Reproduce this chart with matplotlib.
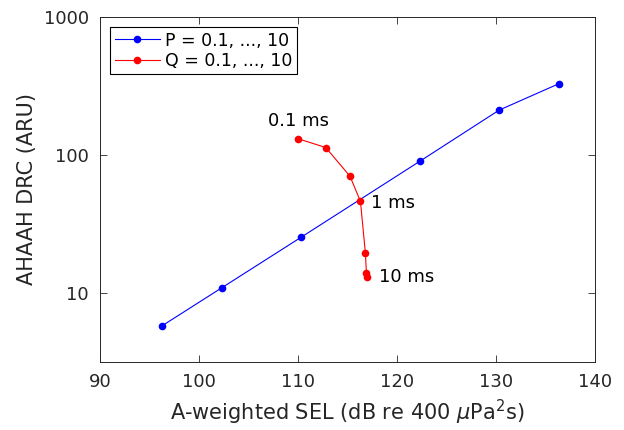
import matplotlib
matplotlib.use("Agg")
import matplotlib.pyplot as plt
from matplotlib.ticker import FixedLocator, NullLocator, FixedFormatter

plt.rcParams['font.family'] = ['DejaVu Sans']
plt.rcParams['mathtext.fontset'] = 'dejavusans'

# values
p_sel = [96.3, 102.3, 110.3, 122.3, 130.3, 136.3]
p_drc = [5.8, 10.9, 25.3, 90, 211, 327]
q_sel = [110.0, 112.8, 115.25, 116.3, 116.8, 116.9, 117.0]
q_drc = [131, 113, 70, 46, 19.4, 14.0, 13.0]

labels = ["0.1 ms", "1 ms", "10 ms"]
label_x = [110.0, 117.4, 118.2]
label_y = [175, 45, 13]
label_ha = ["center", "left", "left"]

x_ticks = [90, 100, 110, 120, 130, 140]
y_ticks = [10, 100, 1000]

fig = plt.figure(figsize=(6.24, 4.30), dpi=100)
ax = fig.add_axes([0.160, 0.158, 0.794, 0.803])

ax.plot(p_sel, p_drc, '-o', color='#0000ff', lw=0.8, ms=5.5,
        markeredgewidth=0, label="P = 0.1, ..., 10")
ax.plot(q_sel, q_drc, '-o', color='#ff0000', lw=0.8, ms=5.5,
        markeredgewidth=0, label="Q = 0.1, ..., 10")

for t, x, y, ha in zip(labels, label_x, label_y, label_ha):
    ax.text(x, y, t, fontsize=13, ha=ha, va='center')

ax.set_yscale('log')
ax.set_xlim(90, 140)
ax.set_ylim(10 ** 0.5, 1000)
ax.xaxis.set_major_locator(FixedLocator(x_ticks))
ax.yaxis.set_major_locator(FixedLocator(y_ticks))
ax.yaxis.set_major_formatter(FixedFormatter([str(v) for v in y_ticks]))
ax.yaxis.set_minor_locator(NullLocator())

ax.tick_params(direction='in', top=True, right=True, labelsize=13,
               colors='#262626', length=5, width=0.6, pad=8)
for s in ax.spines.values():
    s.set_color('#262626')
    s.set_linewidth(0.7)

ax.set_xlabel("A-weighted SEL (dB re 400 $\\mu$Pa$^2$s)", fontsize=15,
              color='#262626', labelpad=5)
ax.set_ylabel("AHAAH DRC (ARU)", fontsize=15, color='#262626', labelpad=5)

leg = ax.legend(loc='upper left', fontsize=12.5, fancybox=False,
                edgecolor='black', framealpha=1, borderpad=0.25,
                handlelength=2.6, labelspacing=0.15, handletextpad=0.3,
                borderaxespad=0.6)
leg.get_frame().set_linewidth(0.8)

fig.savefig("out.png", dpi=100)
